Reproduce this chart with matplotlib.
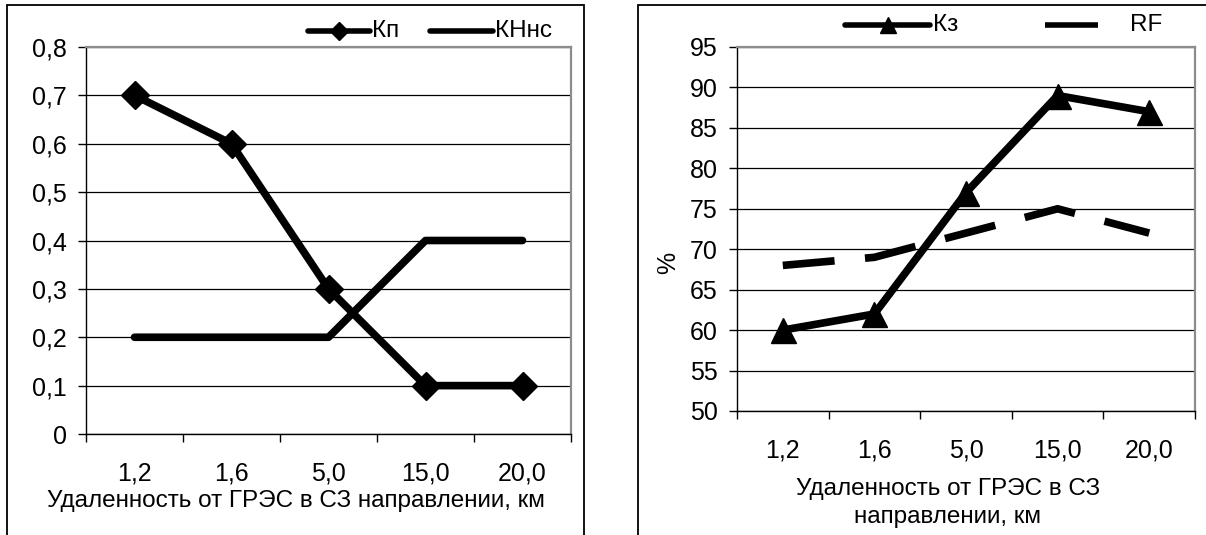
import matplotlib
matplotlib.use("Agg")
import matplotlib.pyplot as plt
from matplotlib.patches import Rectangle
from matplotlib.lines import Line2D

plt.rcParams['font.family'] = ['Liberation Sans', 'DejaVu Sans']

# data
distances = ['1,2', '1,6', '5,0', '15,0', '20,0']
kp = [0.7, 0.6, 0.3, 0.1, 0.1]
knns = [0.2, 0.2, 0.2, 0.4, 0.4]
kz = [60, 62, 77, 89, 87]
rf = [68, 69, 72, 75, 72]

W, H = 1206, 535
fig = plt.figure(figsize=(W / 100, H / 100), dpi=100)


def fx(x):
    return x / W


def fy(y):
    return 1 - y / H


def px_axes(x0, y0, x1, y1):
    # pixel box (top-left origin) -> figure axes
    return fig.add_axes([fx(x0), fy(y1), (x1 - x0) / W, (y1 - y0) / H])


def style_axes(ax, ymin, ymax, step, fmt):
    n = len(distances)
    ax.set_xlim(0, n)
    ax.set_ylim(ymin, ymax)
    ax.set_xticks(range(n + 1))
    ax.set_xticklabels([''] * (n + 1))
    ax.set_xticks([i + 0.5 for i in range(n)], minor=True)
    ax.set_xticklabels(distances, minor=True, fontsize=18)
    ax.tick_params(axis='x', which='minor', length=0, pad=20)
    ax.tick_params(axis='x', which='major', length=6, width=1, direction='out')
    yt = []
    v = ymin
    while v <= ymax + 1e-9:
        yt.append(round(v, 3))
        v += step
    ax.set_yticks(yt)
    ax.set_yticklabels([fmt(t) for t in yt], fontsize=18)
    ax.tick_params(axis='y', length=6, width=1, direction='out', pad=8)
    ax.grid(axis='y', color='black', linewidth=0.9)
    ax.set_axisbelow(True)
    for s in ('top', 'right'):
        ax.spines[s].set_color('#8c8c8c')
        ax.spines[s].set_linewidth(1.6)
    for s in ('left', 'bottom'):
        ax.spines[s].set_color('black')
        ax.spines[s].set_linewidth(1)


def legend_item(x0, x1, y, text, tx, marker=None, ms=9, cap='round'):
    fig.add_artist(Line2D([fx(x0), fx(x1)], [fy(y), fy(y)], color='black',
                          linewidth=4, solid_capstyle=cap))
    if marker:
        fig.add_artist(Line2D([fx((x0 + x1) / 2)], [fy(y)], color='black',
                              marker=marker, markersize=ms, linestyle='none'))
    fig.text(fx(tx), fy(y), text, ha='left', va='center', fontsize=17.5)


# outer frames
fig.add_artist(Rectangle((fx(7), -0.05), (584 - 7) / W, 1.05 - 5 / H,
                         transform=fig.transFigure, fill=False,
                         edgecolor='black', linewidth=1.3))
fig.add_artist(Rectangle((fx(638), -0.05), 0.5, 1.05 - 5 / H,
                         transform=fig.transFigure, fill=False,
                         edgecolor='black', linewidth=1.3))

xs = [i + 0.5 for i in range(len(distances))]

# left panel
ax1 = px_axes(86, 47, 571, 434)
ax1.plot(xs, kp, color='black', linewidth=5.5, marker='D', markersize=14,
         solid_capstyle='round', solid_joinstyle='round')
ax1.plot(xs, knns, color='black', linewidth=5.5, solid_capstyle='round',
         solid_joinstyle='round')
style_axes(ax1, 0, 0.8, 0.1,
           lambda t: '0' if t == 0 else f'{t:.1f}'.replace('.', ','))
legend_item(308, 370, 31, 'Кп', 372, marker='D', ms=9)
legend_item(430, 493, 31, 'КНнс', 495)
fig.text(fx(296), fy(507), 'Удаленность от ГРЭС в СЗ направлении, км',
         ha='center', va='baseline', fontsize=17.5)

# right panel
ax2 = px_axes(737, 47, 1195, 411)
ax2.plot(xs, kz, color='black', linewidth=5.5, marker='^', markersize=18,
         solid_capstyle='round', solid_joinstyle='round')
ax2.plot(xs, rf, color='black', linewidth=5.5, dashes=(6.8, 4),
         dash_capstyle='butt')
style_axes(ax2, 50, 95, 5, lambda t: f'{int(t)}')
fig.text(fx(668), fy(263), '%', rotation=90, ha='center', va='center',
         fontsize=18)
legend_item(845, 930, 25, 'Кз', 933, marker='^', ms=11)
legend_item(1045, 1098, 25, 'RF', 1130, cap='butt')
fig.text(fx(948), fy(495), 'Удаленность от ГРЭС в СЗ', ha='center',
         va='baseline', fontsize=17.5)
fig.text(fx(948), fy(523), 'направлении, км', ha='center',
         va='baseline', fontsize=17.5)

fig.savefig('out.png', dpi=100, facecolor='white')
